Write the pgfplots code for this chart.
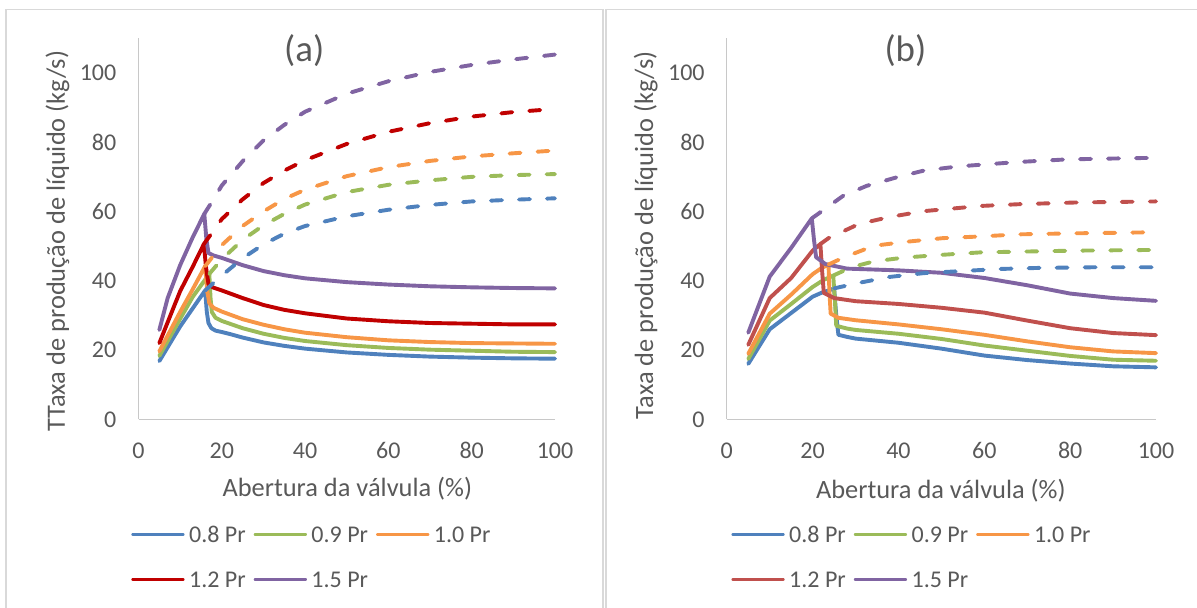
\documentclass[border=0pt]{standalone}
\usepackage{fontspec}
\setmainfont{Carlito}
\usepackage{pgfplots}
\pgfplotsset{compat=1.18}
\definecolor{txt}{HTML}{595959}
\definecolor{axgrey}{HTML}{C8C8C8}
\definecolor{framegrey}{HTML}{D9D9D9}
\definecolor{cblue}{HTML}{4F81BD}
\definecolor{cgreen}{HTML}{9BBB59}
\definecolor{corange}{HTML}{F79646}
\definecolor{credA}{HTML}{C00000}
\definecolor{credB}{HTML}{C0504D}
\definecolor{cpurple}{HTML}{8064A2}
\newcommand{\ticksize}{\fontsize{24.1pt}{28pt}\selectfont}
\newcommand{\labsize}{\fontsize{26.5pt}{30pt}\selectfont}
\newcommand{\titsize}{\fontsize{37pt}{40pt}\selectfont}
\pgfplotsset{
  sl/.style={line width=3.9bp, line join=round, line cap=round},
  dsh/.style={sl, dash pattern=on 11bp off 17bp, forget plot},
  panel/.style={
    scale only axis, anchor=south west,
    xmin=0, xmax=100, ymin=0, ymax=110,
    xtick={0,20,...,100}, ytick={0,20,...,100},
    axis lines*=left,
    axis line style={-, draw=axgrey, line width=1.3bp},
    major tick length=0pt, tick style={draw=none},
    /pgf/number format/assume math mode=true,
    ticklabel style={font=\ticksize, text=txt},
    xticklabel style={anchor=center, yshift=-31bp},
    yticklabel style={anchor=east, inner xsep=0pt, xshift=-22bp},
    label style={font=\labsize, text=txt},
    title style={font=\titsize, text=txt, anchor=center},
    clip=false,
    legend columns=3,
    legend cell align=left,
    legend image code/.code={\draw[##1, solid, line width=3.9bp, line cap=round] (1.8bp,0bp) -- (51.2bp,0bp);},
    legend style={draw=none, fill=none, inner sep=0pt, outer sep=0pt, anchor=north west,
      row sep=29.5bp,
      nodes={inner xsep=0pt, inner ysep=0pt, text height=15.5bp, text depth=0bp, font=\ticksize, text=txt},
      /tikz/every odd column/.append style={column sep=4.5bp},
      /tikz/every even column/.append style={column sep=8bp}},
  },
}
\begin{document}
\begin{tikzpicture}
\path[use as bounding box] (0,0) rectangle (1197bp,608bp);
\draw[framegrey, line width=1.4bp] (6bp,0) -- (6bp,598.5bp) -- (603bp,598.5bp) -- (603bp,0);
\draw[framegrey, line width=1.4bp] (606bp,0) -- (606bp,598.5bp) -- (1197bp,598.5bp);

% ---------------- panel (a)
\begin{axis}[panel, at={(138.5bp,188.7bp)}, width=416.5bp, height=381bp,
  xlabel={Abertura da válvula (\%)},
  ylabel={TTaxa de produção de líquido (kg/s)},
  xlabel style={at={(0.5013,-0.1832)}, anchor=center},
  ylabel style={at={(-0.1947,0.4677)}, anchor=center, rotate=0},
  title={(a)}, title style={at={(0.3978,0.9525)}},
  legend style={at={(-0.0173,-0.282)}},
]
\addplot[cblue, sl] coordinates {(5,16.8) (10,26.8) (13,32) (16,37.2) (16.4,31) (16.8,27.8) (17.5,26.3) (18.5,25.6) (20,25.2) (22,24.6) (25,23.6) (30,22.2) (35,21.2) (40,20.4) (50,19.3) (60,18.6) (70,18.1) (80,17.8) (90,17.6) (100,17.5)};
\addlegendentry{0.8 Pr}
\addplot[cgreen, sl] coordinates {(5,18.3) (10,29) (13,35.3) (17,42) (17.3,35) (17.6,31) (18.5,29.3) (20,28.4) (25,26.3) (30,24.7) (35,23.5) (40,22.6) (50,21.4) (60,20.6) (70,20.1) (80,19.8) (90,19.5) (100,19.4)};
\addlegendentry{0.9 Pr}
\addplot[corange, sl] coordinates {(5,19.6) (10,31) (13,37.5) (16,44.2) (16.5,37) (17,33.5) (18,32.2) (20,31.1) (25,28.9) (30,27.3) (35,26) (40,25) (50,23.7) (60,22.8) (70,22.3) (80,22) (90,21.9) (100,21.8)};
\addlegendentry{1.0 Pr}
\addplot[credA, sl] coordinates {(5,22) (10,37) (13,44) (15.7,50.6) (16.2,44) (16.8,39) (18,38) (20,37.2) (25,35) (30,33) (35,31.6) (40,30.6) (50,29.1) (60,28.3) (70,27.8) (80,27.6) (90,27.4) (100,27.4)};
\addlegendentry{1.2 Pr}
\addplot[cpurple, sl] coordinates {(5,25.8) (7,35) (10,44.5) (13,52.5) (15.8,59.3) (16.3,52) (16.8,48) (18,47.3) (20,46.6) (25,44.5) (30,42.8) (35,41.6) (40,40.7) (50,39.6) (60,38.9) (70,38.4) (80,38.1) (90,37.9) (100,37.8)};
\addlegendentry{1.5 Pr}
\addplot[cblue, dsh] coordinates {(16,37.2) (20,41.5) (25,46.5) (30,50.5) (35,53.6) (40,55.8) (50,58.6) (60,60.5) (70,61.9) (80,62.9) (90,63.4) (100,63.8)};
\addplot[cgreen, dsh] coordinates {(17,42) (20,46.2) (25,51.8) (30,56) (35,59.3) (40,62) (50,65.6) (60,67.7) (70,69) (80,70) (90,70.5) (100,70.8)};
\addplot[corange, dsh] coordinates {(16,44.2) (20,50.3) (25,55.8) (30,60) (35,63.6) (40,66.3) (50,70.2) (60,72.8) (70,74.6) (80,75.9) (90,76.8) (100,77.6)};
\addplot[credA, dsh] coordinates {(15.7,50.6) (20,57.8) (25,63.5) (30,68.2) (35,71.8) (40,74.8) (50,79.5) (60,83) (70,85.5) (80,87.4) (90,88.7) (100,89.6)};
\addplot[cpurple, dsh] coordinates {(15.8,59.3) (18,63.5) (20,67.5) (25,74.5) (30,80.5) (35,85) (40,88.8) (50,94) (60,97.6) (70,100.3) (80,102.3) (90,103.9) (100,105.3)};
\end{axis}

% ---------------- panel (b)
\begin{axis}[panel, at={(726.8bp,188.7bp)}, width=429.2bp, height=381bp,
  xlabel={Abertura da válvula (\%)},
  ylabel={Taxa de produção de líquido (kg/s)},
  xlabel style={at={(0.4986,-0.1869)}, anchor=center},
  ylabel style={at={(-0.189,0.4832)}, anchor=center, rotate=0},
  title={(b)}, title style={at={(0.4161,0.9525)}},
  legend style={at={(0.0107,-0.282)}},
]
\addplot[cblue, sl] coordinates {(5,16) (10,26) (15,30.7) (20,35.4) (22,36.5) (24,37.3) (25,37.8) (25.5,30) (26,24.4) (28,23.8) (30,23.3) (40,22.1) (50,20.4) (60,18.4) (70,17.1) (80,16.1) (90,15.3) (100,15)};
\addlegendentry{0.8 Pr}
\addplot[cgreen, sl] coordinates {(5,17.4) (10,28.5) (15,33.3) (20,38.2) (22.5,40.2) (24.8,41.5) (25.2,34) (25.5,27) (28,26.2) (30,25.8) (40,24.7) (50,23.2) (60,21.3) (70,19.8) (80,18.3) (90,17.2) (100,16.9)};
\addlegendentry{0.9 Pr}
\addplot[corange, sl] coordinates {(5,18.9) (10,30.5) (15,36) (20,41.9) (22,43.6) (23.7,44.7) (23.9,37) (24.2,30.5) (26,29.3) (30,28.6) (40,27.4) (50,26) (60,24.4) (70,22.5) (80,20.8) (90,19.6) (100,19.1)};
\addlegendentry{1.0 Pr}
\addplot[credB, sl] coordinates {(5,21.5) (10,35) (15,40.8) (20,48.7) (21.8,50.6) (22.2,43) (22.6,36.5) (25,35) (30,34.1) (40,33.3) (50,32.2) (60,30.8) (70,28.5) (80,26.3) (90,24.9) (100,24.3)};
\addlegendentry{1.2 Pr}
\addplot[cpurple, sl] coordinates {(5,25) (10,41.2) (15,49.5) (19.8,58) (20.3,52) (20.8,46.8) (23,44.8) (28,43.5) (40,43) (50,42.3) (60,40.8) (70,38.7) (80,36.3) (90,35) (100,34.2)};
\addlegendentry{1.5 Pr}
\addplot[cblue, dsh] coordinates {(25,37.8) (30.8,39.4) (37.9,41.1) (45.9,42.2) (54.8,42.8) (63.6,43.4) (72.5,43.7) (85.8,43.9) (100,43.9)};
\addplot[cgreen, dsh] coordinates {(24.8,41.5) (29,43.9) (34.3,45.6) (41.4,46.7) (50.3,47.5) (59.2,48.2) (68.1,48.4) (81.4,48.7) (100,48.9)};
\addplot[corange, dsh] coordinates {(23.7,44.7) (27.2,46.7) (34.3,50.1) (41.4,51.2) (50.3,52.3) (59.2,52.8) (68.1,53.4) (81.4,53.7) (100,54)};
\addplot[credB, dsh] coordinates {(21.8,50.6) (23.7,52.3) (30.8,56.4) (37.9,58.4) (45.9,60.1) (53.9,61) (59.2,61.6) (68.1,62.1) (81.4,62.6) (100,62.9)};
\addplot[cpurple, dsh] coordinates {(19.8,58) (27.2,64.6) (32.6,67.4) (39.7,69.9) (45.9,71.8) (53.9,73) (59.2,73.5) (68.1,74.3) (78.7,75) (85.8,75.2) (100,75.5)};
\end{axis}
\end{tikzpicture}
\end{document}
